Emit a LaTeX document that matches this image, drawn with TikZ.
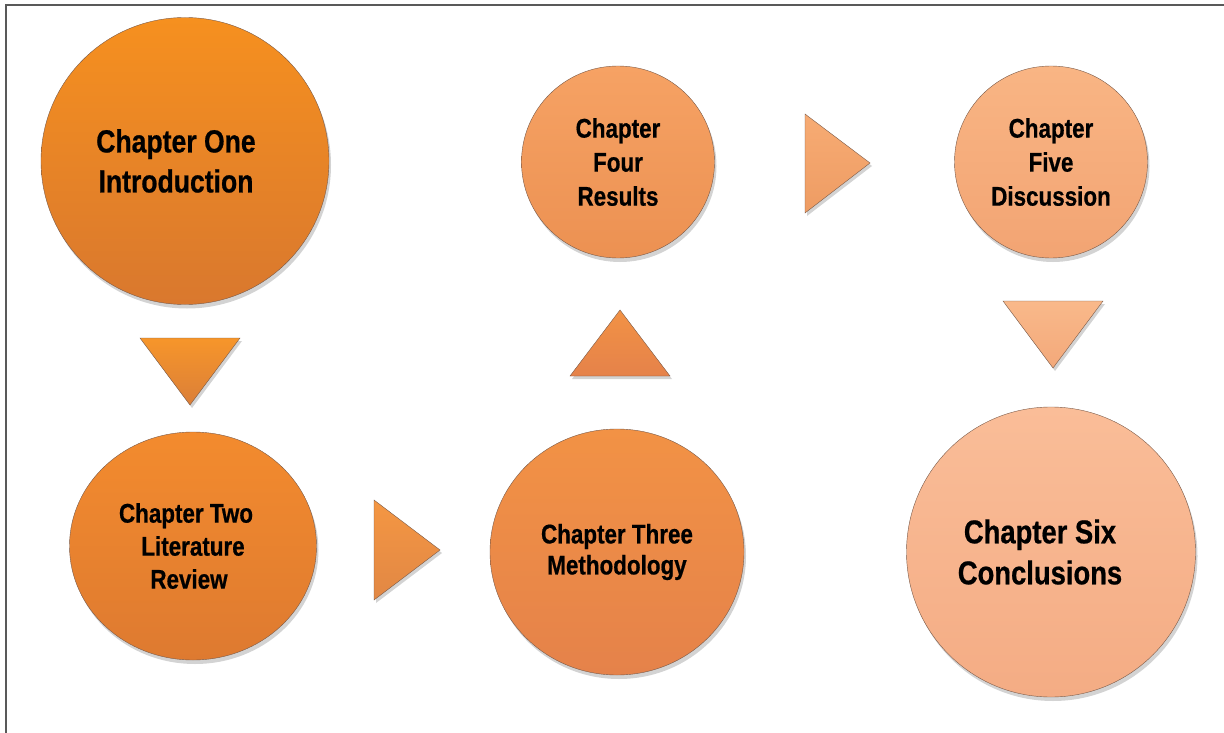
\documentclass[tikz,border=0pt]{standalone}
\usepackage{fontspec}
\setmainfont{Liberation Sans}[FakeStretch=0.83, BoldFeatures={FakeBold=0.6}]
\usetikzlibrary{shapes.geometric,shadows}

\definecolor{orA}{HTML}{F6901F}
\definecolor{orAd}{HTML}{D9782E}
\definecolor{orB}{HTML}{F38B2E}
\definecolor{orBd}{HTML}{DE7A30}
\definecolor{orC}{HTML}{F29245}
\definecolor{orCd}{HTML}{E5824A}
\definecolor{orD}{HTML}{F6A264}
\definecolor{orDd}{HTML}{EC9152}
\definecolor{orE}{HTML}{F9B584}
\definecolor{orEd}{HTML}{F2A473}
\definecolor{orF}{HTML}{FABD98}
\definecolor{orFd}{HTML}{F4AC84}
\definecolor{rim}{HTML}{7A5A48}

\begin{document}
\begin{tikzpicture}%
        [x=1pt, y=-1pt,
        chap/.style={ellipse, draw=rim, thin, inner sep=0pt, align=center,
            font=\bfseries, drop shadow={shadow xshift=2pt, shadow yshift=-4pt, opacity=0.35}},
        tri/.style={draw=rim, thin, drop shadow={shadow xshift=2pt, shadow yshift=-3pt, opacity=0.35}}]
    %
    \useasboundingbox (0,0) rectangle (1224,733);
    %% frame
    \draw[color=black!65, line width=2pt] (1224,5) -- (6,5) -- (6,733);
    %%
    %% the chapters
    \node[chap, top color=orA, bottom color=orAd, minimum width=288pt, minimum height=287pt,
        font=\bfseries\fontsize{32}{40}\selectfont] (one) at (185,161) {Chapter One\hspace*{18pt}\\Introduction\hspace*{18pt}};
    \node[chap, top color=orB, bottom color=orBd, minimum width=247pt, minimum height=228pt,
        font=\bfseries\fontsize{27}{33}\selectfont] (two) at (193,546) {Chapter Two\hspace*{14pt}\\Literature\\Review\hspace*{8pt}};
    \node[chap, top color=orC, bottom color=orCd, minimum width=254pt, minimum height=246pt,
        font=\bfseries\fontsize{27}{31}\selectfont] (three) at (617,552) {Chapter Three\\Methodology};
    \node[chap, top color=orD, bottom color=orDd, minimum width=193pt, minimum height=192pt,
        font=\bfseries\fontsize{27}{34}\selectfont] (four) at (618,162) {Chapter\\Four\\Results};
    \node[chap, top color=orE, bottom color=orEd, minimum width=193pt, minimum height=192pt,
        font=\bfseries\fontsize{27}{34}\selectfont] (five) at (1051,162) {Chapter\\Five\\Discussion};
    \node[chap, top color=orF, bottom color=orFd, minimum width=289pt, minimum height=290pt,
        font=\bfseries\fontsize{33}{41}\selectfont] (six) at (1051,552) {Chapter Six\hspace*{22pt}\\Conclusions\hspace*{22pt}};
    %%
    %% the arrow heads
    \path[tri, top color=orA!95!white, bottom color=orAd!95!white] (140,338) -- (240,338) -- (190,405) -- cycle;
    \path[tri, top color=orB!90!white, bottom color=orBd!90!white] (374,500) -- (440,550) -- (374,600) -- cycle;
    \path[tri, top color=orC, bottom color=orCd] (620,310) -- (670,376) -- (570,376) -- cycle;
    \path[tri, top color=orD!90!white, bottom color=orDd!90!white] (805,114) -- (870,163) -- (805,213) -- cycle;
    \path[tri, top color=orE!95!white, bottom color=orEd!95!white] (1003,301) -- (1103,301) -- (1053,368) -- cycle;
    %%
    \end{tikzpicture}
\end{document}
